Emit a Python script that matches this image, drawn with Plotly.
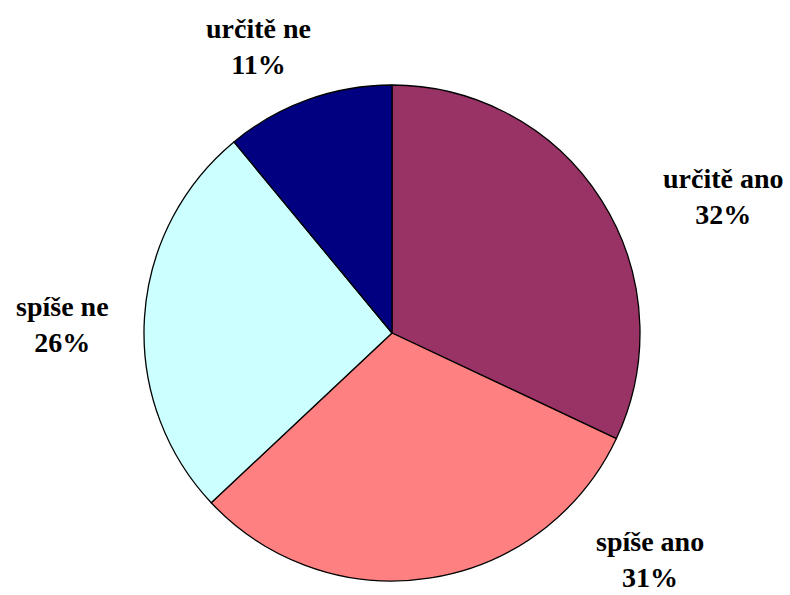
import plotly.graph_objects as go

labels = ["určitě ano", "spíše ano", "spíše ne", "určitě ne"]
values = [32, 31, 26, 11]
colors = ["#993366", "#FF8080", "#CCFFFF", "#000080"]
# label anchor positions (paper fractions) for each slice label
label_x = [723/790, 650/790, 63/790, 258/790]
label_y = [1-197/595, 1-559/595, 1-324/595, 1-47/595]

fig = go.Figure(go.Pie(
    labels=labels,
    values=values,
    sort=False,
    direction="clockwise",
    rotation=0,
    marker=dict(colors=colors, line=dict(color="black", width=1.3)),
    textinfo="none",
    hoverinfo="none",
    domain=dict(x=[144/790, 640/790], y=[1-581/595, 1-85/595]),
    showlegend=False,
))

total = sum(values)
for lab, v, x, y in zip(labels, values, label_x, label_y):
    fig.add_annotation(
        x=x, y=y, xref="paper", yref="paper",
        text=f"{lab}<br>{round(100*v/total)}%",
        showarrow=False, xanchor="center", yanchor="middle",
        font=dict(family="Liberation Serif", size=28, color="black", weight="bold"),
        align="center", borderpad=0,
    )

fig.update_layout(
    width=790, height=595,
    margin=dict(l=0, r=0, t=0, b=0),
    paper_bgcolor="white",
    plot_bgcolor="white",
)
fig.write_html(
    "out.html",
    config={"displayModeBar": False},
    post_script="document.body.style.margin='0';document.body.style.overflow='hidden';",
)
